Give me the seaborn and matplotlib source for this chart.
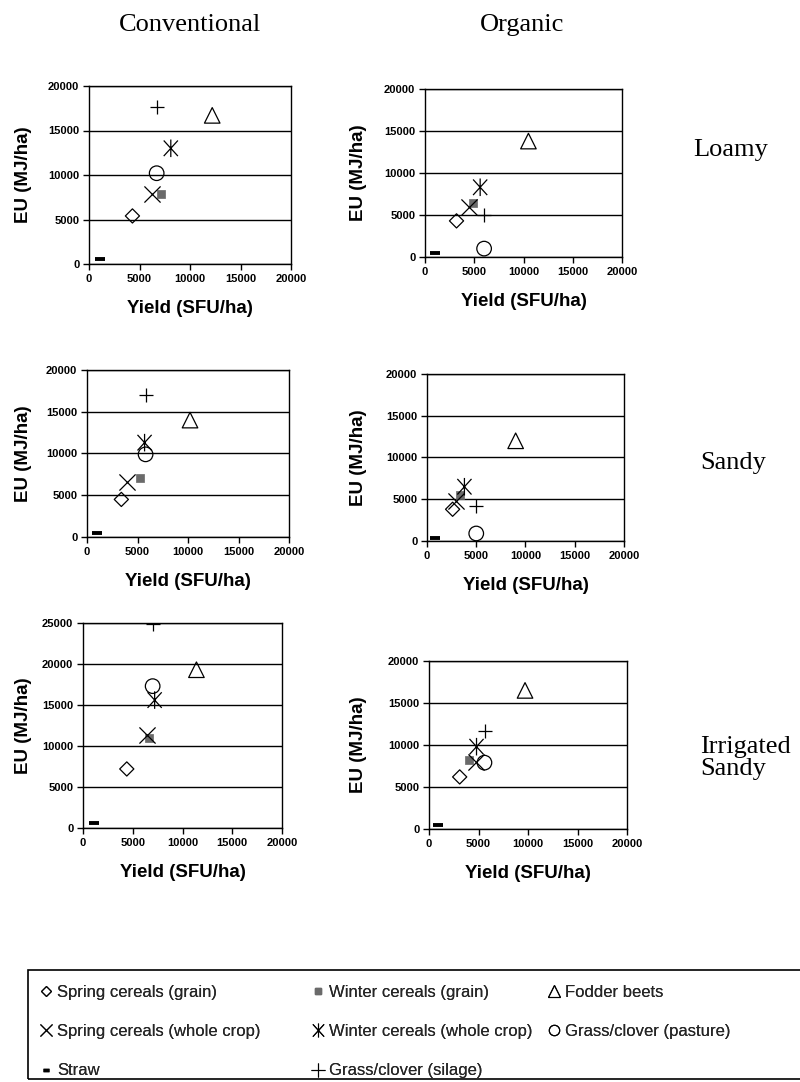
import matplotlib
matplotlib.use("Agg")
import matplotlib.pyplot as plt
import seaborn as sns
import pandas as pd
from matplotlib.path import Path
from matplotlib.lines import Line2D
from matplotlib.patches import Rectangle

# ---------------- data ----------------
categories = [
    "Spring cereals (grain)",
    "Winter cereals (grain)",
    "Fodder beets",
    "Spring cereals (whole crop)",
    "Winter cereals (whole crop)",
    "Grass/clover (pasture)",
    "Straw",
    "Grass/clover (silage)",
]

conv_loamy_yield = [4300, 7100, 12200, 6200, 8100, 6700, 1100, 6700]
conv_loamy_eu = [5400, 7900, 16700, 7900, 13000, 10200, 600, 17600]

org_loamy_yield = [3200, 4900, 10500, 4500, 5600, 6000, 1000, 6000]
org_loamy_eu = [4300, 6400, 13800, 6000, 8300, 1000, 500, 5000]

conv_sandy_yield = [3400, 5200, 10200, 4000, 5700, 5800, 1000, 5800]
conv_sandy_eu = [4500, 7100, 14000, 6600, 11300, 9900, 500, 17000]

org_sandy_yield = [2600, 3400, 9000, 2900, 3800, 5000, 800, 5000]
org_sandy_eu = [3800, 5500, 12000, 4800, 6500, 900, 300, 4200]

conv_irr_yield = [4400, 6600, 11400, 6400, 7200, 7000, 1100, 7000]
conv_irr_eu = [7200, 11000, 19300, 11300, 15600, 17300, 600, 24900]

org_irr_yield = [3100, 4000, 9700, 4700, 4800, 5600, 900, 5700]
org_irr_eu = [6200, 8200, 16500, 8000, 9800, 7900, 500, 11700]

column_titles = ["Conventional", "Organic"]
row_titles = ["Loamy", "Sandy", "Irrigated\nSandy"]
x_ticks = [0, 5000, 10000, 15000, 20000]
x_label = "Yield (SFU/ha)"
y_label = "EU (MJ/ha)"

# ---------------- style ----------------
sns.set_theme(style="white")
plt.rcParams["font.family"] = ["Liberation Sans", "DejaVu Sans"]

W, H = 800, 1082
fig = plt.figure(figsize=(W / 100, H / 100), dpi=100)

asterisk = Path(
    [(-0.5, -0.55), (0.5, 0.55), (-0.5, 0.55), (0.5, -0.55), (0, -0.62), (0, 0.62)],
    [Path.MOVETO, Path.LINETO, Path.MOVETO, Path.LINETO, Path.MOVETO, Path.LINETO],
)

styles = {
    "Spring cereals (grain)": dict(marker="D", s=52, facecolor="none", edgecolor="black", linewidth=0.9),
    "Winter cereals (grain)": dict(marker="s", s=36, facecolor="#6a6a6a", edgecolor="#6a6a6a", linewidth=0.5),
    "Fodder beets": dict(marker="^", s=125, facecolor="none", edgecolor="black", linewidth=0.9),
    "Spring cereals (whole crop)": dict(marker="x", s=135, color="black", linewidth=0.9),
    "Winter cereals (whole crop)": dict(marker=asterisk, s=160, facecolor="none", edgecolor="black", linewidth=0.9),
    "Grass/clover (pasture)": dict(marker="o", s=110, facecolor="none", edgecolor="black", linewidth=0.9),
    "Straw": dict(marker="_", s=50, color="black", linewidth=2.8),
    "Grass/clover (silage)": dict(marker="+", s=115, color="black", linewidth=0.9),
}

panels = [
    # (yield, eu, ymax, pixel rect left, top, right, bottom, column)
    (conv_loamy_yield, conv_loamy_eu, 20000, (89, 86, 291, 264), 0),
    (org_loamy_yield, org_loamy_eu, 20000, (425, 89, 622, 257), 1),
    (conv_sandy_yield, conv_sandy_eu, 20000, (87, 370, 289, 537), 0),
    (org_sandy_yield, org_sandy_eu, 20000, (427, 374, 624, 541), 1),
    (conv_irr_yield, conv_irr_eu, 25000, (83, 623, 282, 828), 0),
    (org_irr_yield, org_irr_eu, 20000, (429, 661, 627, 829), 1),
]

ylabel_center_x = [22, 357]

for xs, ys, ymax, (l, t, r, b), col in panels:
    ax = fig.add_axes([l / W, 1 - b / H, (r - l) / W, (b - t) / H])
    df = pd.DataFrame({"category": categories, "yield": xs, "eu": ys})
    for cat in categories:
        sub = df[df["category"] == cat]
        sns.scatterplot(data=sub, x="yield", y="eu", ax=ax, legend=False, zorder=3, **styles[cat])
    ax.set_xlim(0, 20000)
    ax.set_ylim(0, ymax)
    yt = list(range(0, ymax + 1, 5000))
    ax.set_xticks(x_ticks, labels=[str(v) for v in x_ticks], fontweight="bold")
    ax.set_yticks(yt, labels=[str(v) for v in yt], fontweight="bold")
    ax.yaxis.grid(True, color="black", linewidth=1.0)
    ax.xaxis.grid(False)
    ax.set_axisbelow(True)
    for sp in ax.spines.values():
        sp.set_visible(True)
        sp.set_color("black")
        sp.set_linewidth(1.0)
    ax.tick_params(axis="both", direction="out", length=4, width=1, color="black",
                   labelsize=8, pad=3, bottom=True, left=True, labelcolor="black")
    ax.set_xlabel(x_label, fontsize=13.5, fontweight="bold", color="black")
    ax.set_ylabel(y_label, fontsize=13.5, fontweight="bold", color="black")
    hpx = b - t
    wpx = r - l
    ax.xaxis.set_label_coords(0.5, -36 / hpx)
    ax.yaxis.set_label_coords(-(l - (ylabel_center_x[col] + 10)) / wpx, 0.5)

# column titles
fig.text(190 / W, 1 - 25 / H, column_titles[0], ha="center", va="center",
         family="Liberation Serif", fontsize=19, color="black")
fig.text(522 / W, 1 - 25 / H, column_titles[1], ha="center", va="center",
         family="Liberation Serif", fontsize=19, color="black")

# row titles
fig.text(693 / W, 1 - 150 / H, row_titles[0], ha="left", va="center",
         family="Liberation Serif", fontsize=19, color="black")
fig.text(700 / W, 1 - 463 / H, row_titles[1], ha="left", va="center",
         family="Liberation Serif", fontsize=19, color="black")
fig.text(700 / W, 1 - 758 / H, row_titles[2], ha="left", va="center",
         family="Liberation Serif", fontsize=19, color="black", linespacing=1.05)

# legend (three columns, each its own legend)
leg_kw = {
    "Spring cereals (grain)": dict(marker="D", markersize=5, markerfacecolor="none", markeredgecolor="black", markeredgewidth=0.8),
    "Winter cereals (grain)": dict(marker="s", markersize=5, markerfacecolor="#6a6a6a", markeredgecolor="#6a6a6a"),
    "Fodder beets": dict(marker="^", markersize=8, markerfacecolor="none", markeredgecolor="black", markeredgewidth=0.8),
    "Spring cereals (whole crop)": dict(marker="x", markersize=9, markeredgecolor="black", markeredgewidth=0.8),
    "Winter cereals (whole crop)": dict(marker=asterisk, markersize=10, markerfacecolor="none", markeredgecolor="black", markeredgewidth=0.8),
    "Grass/clover (pasture)": dict(marker="o", markersize=7.5, markerfacecolor="none", markeredgecolor="black", markeredgewidth=0.8),
    "Straw": dict(marker="_", markersize=5, markeredgecolor="black", markeredgewidth=2.5),
    "Grass/clover (silage)": dict(marker="+", markersize=10, markeredgecolor="black", markeredgewidth=0.8),
}
legend_columns = [[0, 3, 6], [1, 4, 7], [2, 5]]
legend_x = [38, 310, 546]
for idxs, lx in zip(legend_columns, legend_x):
    handles = [Line2D([], [], linestyle="none", **leg_kw[categories[i]]) for i in idxs]
    labels = [categories[i] for i in idxs]
    lg = fig.legend(handles, labels, loc="upper left", bbox_to_anchor=(lx / W, 1 - 985 / H),
                    ncol=1, frameon=False, fontsize=12, handletextpad=0.15, handlelength=1.0,
                    labelspacing=1.45, borderaxespad=0, borderpad=0)
    fig.add_artist(lg)
fig.patches.append(Rectangle((28 / W, 1 - 1079 / H), (900 - 28) / W, (1079 - 970) / H,
                             transform=fig.transFigure, fill=False, edgecolor="black", linewidth=1.2))

fig.savefig("out.png", dpi=100, facecolor="white")
